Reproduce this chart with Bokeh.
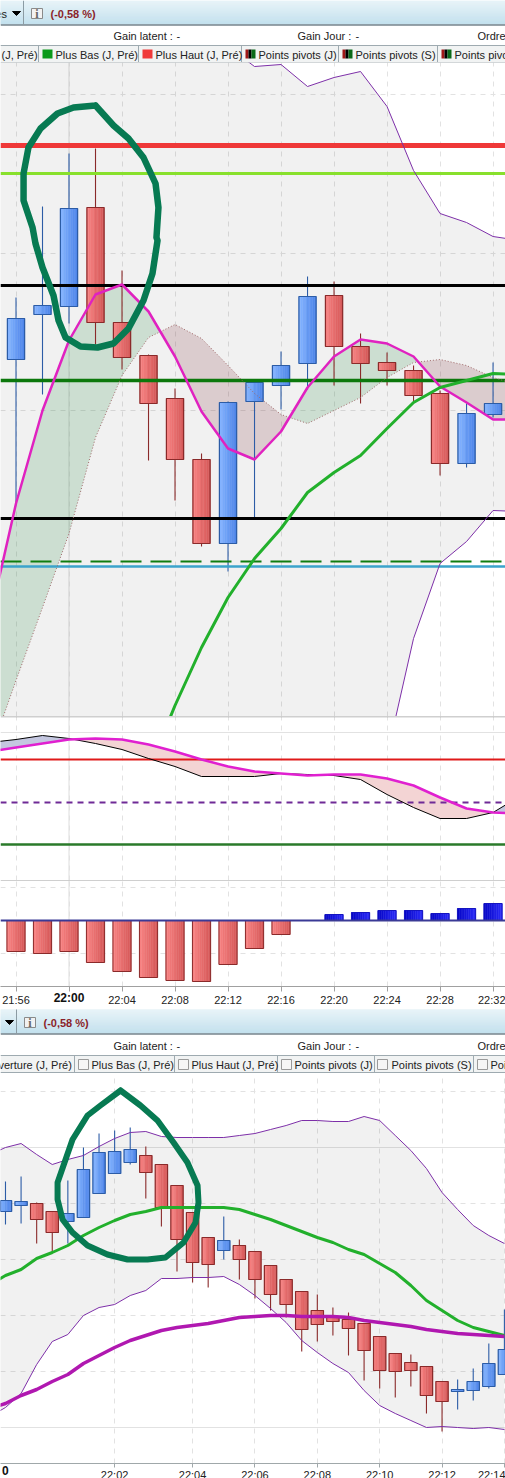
import numpy as np
from bokeh.plotting import figure
from bokeh.models import Range1d, Grid, FixedTicker, LinearAxis, Column
from bokeh.core.properties import value
from bokeh.embed import file_html
from bokeh.resources import INLINE

FONT = "Liberation Sans"

# ---- upper chart, minutes after 22:00 ----
t1 = [-6, -4, -2, 0, 2, 4, 6, 8, 10, 12, 14, 16, 18, 20, 22, 24, 26, 28, 30, 32, 34]
candle_t1 = t1[1:-1]
open1 = [641, 686, 694, 793, 678, 645, 602, 541, 457, 599, 615, 637, 705, 654, 638, 630, 607, 537, 586]
close1 = [682, 695, 792, 678, 643, 597, 541, 457, 598, 618, 635, 704, 654, 637, 630, 605, 537, 587, 597]
high1 = [703, 794, 847, 852, 730, 646, 612, 547, 599, 620, 649, 724, 719, 667, 648, 635, 610, 597, 638]
low1 = [497, 606, 677, 656, 631, 540, 500, 454, 429, 483, 591, 611, 615, 597, 615, 598, 525, 533, 583]
upper1 = [970, 970, 970, 970, 970, 970, 970, 970, 965, 954, 934, 936, 914, 923, 929, 894, 830, 787, 778, 764, 760]
lower1 = [200, 200, 200, 200, 200, 200, 200, 200, 200, 200, 200, 200, 200, 200, 200, 245, 362, 437, 459, 490, 489]
fast1 = [380, 497, 590, 660, 706, 716, 689, 644, 589, 552, 541, 569, 613, 644, 661, 657, 644, 614, 598, 581, 581]
slow1 = [245, 320, 393, 467, 563, 625, 663, 676, 662, 635, 607, 586, 577, 590, 603, 623, 638, 641, 635, 623, 615]
green1 = [230, 295, 353, 403, 442, 472, 508, 528, 545, 572, 598, 613, 620, 627, 626]
levels1 = {"red": 855, "lime": 827, "black_hi": 715, "green": 620, "black_lo": 482, "dash": 439, "cyan": 434}
grid_y1 = [906, 747, 590, 434]
ticks1 = [-4, 0, 4, 8, 12, 16, 20, 24, 28, 32]
tick_labels1 = ["21:56", "", "22:04", "22:08", "22:12", "22:16", "22:20", "22:24", "22:28", "22:32"]
bold_tick1 = 0
bold_label1 = "22:00"
loop1_t = [2.0, 3.36, 4.49, 5.62, 6.53, 6.75, 6.6, 6.68, 6.3, 5.62, 4.49, 3.36, 2.15, 0.87, -0.26, -0.79, -1.17, -2.0, -2.53, -2.75, -3.43, -3.43, -3.06, -2.15, -0.87, 0.34, 2.0]
loop1_v = [895, 875, 862, 843, 817, 793, 763, 760, 727, 700, 672, 657, 653, 654, 663, 680, 705, 733, 757, 773, 800, 827, 853, 872, 887, 893, 895]

# ---- oscillator ----
osc_black = [258, 261, 265, 262, 257, 251, 242, 234, 224, 224, 224, 227, 226, 225, 221, 206, 193, 182, 182, 188, 204]
osc_magenta = [249, 253, 257, 261, 262, 261, 256, 249, 241, 234, 229, 227, 225, 226, 226, 222, 215, 203, 192, 188, 187]

# ---- histogram ----
hist = [-31, -33, -31, -42, -51, -57, -60, -61, -44, -28, -14, 0, 6, 8, 10, 10, 7, 12, 17]

# ---- lower chart, bar number ----
bars2 = list(range(33))
open2 = [791, 797, 799, 791, 781, 785, 809, 829, 840, 847, 838, 817, 790, 765, 752, 757, 751, 737, 723, 711, 692, 685, 683, 679, 666, 649, 640, 636, 621, 611, 612, 616, 628]
close2 = [802, 801, 783, 770, 789, 833, 850, 851, 853, 830, 795, 763, 740, 738, 762, 743, 723, 708, 698, 673, 678, 681, 674, 652, 632, 631, 632, 607, 601, 613, 621, 639, 653]
high2 = [821, 826, 800, 791, 822, 855, 869, 872, 875, 856, 838, 817, 790, 765, 786, 763, 751, 737, 723, 711, 708, 695, 690, 679, 666, 649, 648, 636, 621, 623, 634, 659, 693]
low2 = [778, 779, 759, 750, 759, 785, 809, 829, 838, 804, 776, 731, 720, 715, 743, 723, 704, 692, 685, 651, 661, 667, 647, 622, 614, 605, 616, 589, 571, 593, 602, 614, 628]
t2 = list(range(-1, 33))
upper2 = [848, 855, 859, 848, 838, 843, 847, 856, 864, 870, 871, 866, 865, 865, 865, 865, 867, 869, 873, 877, 882, 882, 881, 881, 886, 882, 867, 852, 834, 810, 793, 777, 767, 759]
lower2 = [586, 595, 609, 638, 661, 668, 687, 695, 698, 707, 712, 724, 724, 725, 725, 726, 718, 707, 694, 680, 662, 650, 639, 630, 612, 597, 589, 582, 575, 576, 575, 574, 575, 573]
green2 = [718, 727, 733, 744, 750, 757, 767, 775, 782, 788, 791, 795, 795, 795, 795, 795, 793, 788, 783, 777, 771, 765, 760, 753, 748, 739, 730, 717, 702, 692, 682, 675, 671, 667]
purple2 = [594, 599, 607, 613, 621, 628, 639, 647, 655, 662, 667, 672, 675, 677, 679, 682, 685, 686, 687, 687, 686, 686, 686, 685, 682, 680, 678, 676, 673, 671, 669, 668, 667, 666]
grid_y2_dash = [911, 799, 743, 687, 631]
grid_y2_solid = [855, 575]
ticks2 = [7, 12, 16, 20, 24, 28, 32]
tick_labels2 = ["22:02", "22:04", "22:06", "22:08", "22:10", "22:12", "22:14"]
edge_tick2 = -0.2
edge_label2 = "0"
loop2_t = [7.38, 8.66, 9.75, 10.78, 11.67, 12.32, 12.38, 12.19, 11.42, 10.26, 9.11, 7.83, 6.54, 5.26, 4.30, 3.66, 3.34, 3.34, 3.72, 4.30, 5.26, 6.09, 7.38]
loop2_v = [912, 897, 882, 860, 840, 817, 800, 780, 760, 745, 743, 743, 748, 757, 770, 783, 803, 820, 837, 863, 887, 897, 912]

GRID = "#e2e2e2"
BLUE = ("#85b4ff", "#4f86ea", "#2c5ca6")
RED = ("#f88282", "#d65a5a", "#8a2a2a")
BAND = "#7d2fa8"


def mix(a, b, f):
    ca = [int(a[i:i + 2], 16) for i in (1, 3, 5)]
    cb = [int(b[i:i + 2], 16) for i in (1, 3, 5)]
    return "#%02x%02x%02x" % tuple(round(x + (y - x) * f) for x, y in zip(ca, cb))


def panel(w, h, xr, yr, **kw):
    p = figure(width=w, height=h, x_range=xr, y_range=yr, x_axis_type=None, y_axis_type=None,
               toolbar_location=None, output_backend="svg", min_border=0,
               outline_line_color=None, background_fill_color="white", border_fill_color="white", **kw)
    return p


def xgrid(p, ticks, solid=None):
    p.add_layout(Grid(dimension=0, ticker=FixedTicker(ticks=ticks), grid_line_color=GRID, grid_line_dash="5 5"))
    for s in solid or []:
        p.segment([s], [p.y_range.start], [s], [p.y_range.end], line_color="#dcdcdc", line_width=1, level="underlay")


def ygrid(p, ys, dash="5 5"):
    p.add_layout(Grid(dimension=1, ticker=FixedTicker(ticks=ys), grid_line_color=GRID, grid_line_dash=dash))


def gradient_bars(p, x, a, b, cols, width, n=10, line_w=1.2):
    x, a, b = map(np.asarray, (x, a, b))
    for k in range(n):
        f = k / (n - 1)
        c = mix(cols[0], cols[1], f)
        p.vbar(x=x - width / 2 + (k + .5) * width / n, width=width / n, top=a, bottom=b,
               fill_color=c, line_color=c, line_width=.5)
    p.vbar(x=x, width=width, top=a, bottom=b, fill_color=None, line_color=cols[2], line_width=line_w)


def candles(p, t, o, c, h, l, width):
    t, o, c, h, l = map(np.asarray, (t, o, c, h, l))
    for mask, cols in ((c >= o, BLUE), (c < o, RED)):
        p.segment(t[mask], h[mask], t[mask], l[mask], line_color=cols[2], line_width=1.1)
        gradient_bars(p, t[mask], np.maximum(o, c)[mask], np.minimum(o, c)[mask], cols, width)


def two_tone(p, x, a, b, col_a, col_b, alpha):
    """Fill between a and b, one colour where a is above, the other where b is above."""
    x, a, b = [np.asarray(v, float) for v in (x, a, b)]
    xs = []
    for i in range(len(x) - 1):
        xs.append(x[i])
        d0, d1 = a[i] - b[i], a[i + 1] - b[i + 1]
        if d0 * d1 < 0:
            xs.append(x[i] + (x[i + 1] - x[i]) * d0 / (d0 - d1))
    xs.append(x[-1])
    xs = np.array(xs)
    aa, bb = np.interp(xs, x, a), np.interp(xs, x, b)
    top = np.maximum(aa, bb)
    p.varea(xs, top, bb, fill_color=col_a, fill_alpha=alpha)
    p.varea(xs, top, aa, fill_color=col_b, fill_alpha=alpha)


def header(h, left_y, pct_x, sep_x, arrow_x, info_x, row2_y, row3_y, seps, tabs, extra=None):
    p = panel(505, h, Range1d(0, 505), Range1d(h, 0))
    top = left_y
    n = 24
    for i in range(n):
        c = mix("#e6f3f8", "#bedeec", i / (n - 1))
        p.quad(left=[0], right=[505], top=[top + i], bottom=[top + i + 1], fill_color=c, line_color=c, line_width=.4)
    p.segment([0], [top + n + .5], [505], [top + n + .5], line_color="#76858c", line_width=1.5)
    p.segment([sep_x], [top], [sep_x], [top + n], line_color="#8b9ba3", line_width=1)
    p.patch([arrow_x - 4, arrow_x + 4, arrow_x], [top + 11, top + 11, top + 15], fill_color="black", line_color="black")
    p.quad(left=[info_x], right=[info_x + 11], top=[top + 8], bottom=[top + 18], fill_color="#f2f2f2", line_color="#8a8a8a")
    txt = dict(text_font=value(FONT), text_font_size="11px", text_baseline="middle", text_color="#222222")
    p.text([info_x + 5.5], [top + 13], text=["i"], text_font=value("Liberation Serif"), text_font_size="12px",
           text_baseline="middle", text_align="center", text_color="#666666", text_font_style="bold")
    p.text([pct_x], [top + 13], text=["(-0,58 %)"], text_font=value(FONT), text_font_size="11px",
           text_baseline="middle", text_color="#8a1f2a", text_font_style="bold")
    p.text([113, 176], [row2_y, row2_y], text=["Gain latent :", "-"], **txt)
    p.text([297, 355], [row2_y, row2_y], text=["Gain Jour :", "-"], **txt)
    p.text([477], [row2_y], text=["Ordre"], **txt)
    # tab row
    p.quad(left=[0], right=[505], top=[row3_y - 9], bottom=[row3_y + 8], fill_color="#f1f3f3", line_color=None)
    p.segment([0, 0], [row3_y - 9, row3_y + 8], [505, 505], [row3_y - 9, row3_y + 8], line_color="#9eaab0", line_width=1)
    p.segment(seps, [row3_y - 9] * len(seps), seps, [row3_y + 8] * len(seps), line_color="#9eaab0", line_width=1)
    p.text([a[0] for a in tabs], [row3_y] * len(tabs), text=[a[1] for a in tabs], **txt)
    if extra:
        extra(p, row3_y)
    return p


def icons1(p, y):
    p.quad(left=[42], right=[52], top=[y - 5], bottom=[y + 4], fill_color="#0a9a1a", line_color=None)
    p.quad(left=[142], right=[152], top=[y - 5], bottom=[y + 4], fill_color="#f03a3a", line_color=None)
    for x in (245, 342, 441):
        p.quad(left=[x, x + 3, x + 6], right=[x + 3, x + 6, x + 10], top=[y - 5] * 3, bottom=[y + 4] * 3,
               fill_color=["#a01818", "#000000", "#0a6a18"], line_color=None)


def icons2(p, y):
    xs = [78, 178, 281, 377, 477]
    p.quad(left=xs, right=[x + 10 for x in xs], top=[y - 5] * 5, bottom=[y + 5] * 5,
           fill_color="#f6f6f6", line_color="#9a9a9a")


def bold_axis(p, tick, label, standoff):
    ax = LinearAxis(ticker=FixedTicker(ticks=[tick]), major_label_overrides={tick: label},
                    axis_line_color=None, major_tick_line_color=None, major_tick_in=0, major_tick_out=0,
                    minor_tick_line_color=None, major_label_text_font=FONT, major_label_text_font_size="12px",
                    major_label_text_font_style="bold", major_label_text_color="#111111",
                    major_label_standoff=standoff)
    p.add_layout(ax, "below")


# ------------------ header 1 ------------------
h1 = header(62, 0, 50, 23, 16, 31, 35, 54, [38, 138, 241, 338, 437],
            [(1, "(J, Pré)"), (55, "Plus Bas (J, Pré)"), (155, "Plus Haut (J, Pré)"),
             (258, "Points pivots (J)"), (355, "Points pivots (S)"), (454, "Points pivo")],
            icons1)
h1.text([-5], [13], text=["es"], text_font=value(FONT), text_font_size="11px", text_baseline="middle", text_color="#222222")

# ------------------ upper price chart ------------------
XR1 = (-5.17, 32.94)
p1 = panel(505, 654, Range1d(*XR1), Range1d(284, 938))
xgrid(p1, ticks1, [0])
ygrid(p1, grid_y1)
p1.varea(t1, upper1, lower1, fill_color="black", fill_alpha=.055)
two_tone(p1, t1, fast1, slow1, "#3d9756", "#883d47", .2)
candles(p1, candle_t1, open1, close1, high1, low1, 1.3)
p1.hspan(y=[levels1["red"]], line_color="#ef3838", line_width=5)
p1.hspan(y=[levels1["lime"]], line_color="#88e02c", line_width=3)
p1.hspan(y=[levels1["black_hi"], levels1["black_lo"]], line_color="black", line_width=3)
p1.hspan(y=[levels1["green"]], line_color="#0c780c", line_width=3.5)
p1.hspan(y=[levels1["cyan"]], line_color="#3ba3cb", line_width=2.5)
p1.hspan(y=[levels1["dash"]], line_color="#0f7d0f", line_width=2, line_dash="21 9")
p1.line(t1, slow1, line_color="#a06a6a", line_width=1, line_dash="1 2")
p1.line(t1, upper1, line_color=BAND, line_width=1)
p1.line(t1, lower1, line_color=BAND, line_width=1)
p1.line(t1, fast1, line_color="#e022c0", line_width=2.5)
p1.line(t1[6:], green1, line_color="#22b02c", line_width=3)
p1.line(loop1_t, loop1_v, line_color="#077a52", line_width=6.5, line_join="round", line_cap="round")
p1.segment([XR1[0]], [938], [XR1[1]], [938], line_color="#a8b0b4", line_width=1)

# ------------------ oscillator ------------------
p2 = panel(505, 164, Range1d(*XR1), Range1d(120, 284))
xgrid(p2, ticks1, [0])
ygrid(p2, [268], dash="solid")
two_tone(p2, t1, osc_black, osc_magenta, "#c4c7e0", "#f3d4d4", 1)
p2.hspan(y=[241], line_color="#e01a1a", line_width=2)
p2.hspan(y=[198], line_color="#6f2a96", line_width=2, line_dash="6 5")
p2.hspan(y=[156], line_color="#2a7a2a", line_width=2.5)
p2.line(t1, osc_black, line_color="black", line_width=1)
p2.line(t1, osc_magenta, line_color="#e020d0", line_width=2.5)
p2.segment([XR1[0]], [284], [XR1[1]], [284], line_color="#a0a0a0", line_width=1.5)

# ------------------ histogram with time axis ------------------
p3 = panel(505, 126, Range1d(*XR1), Range1d(-66, 40), frame_height=106)
xgrid(p3, ticks1, [0])
ygrid(p3, [33, -33])
hist_a = np.array(hist)
ht = np.array(candle_t1)
neg, pos = hist_a < 0, hist_a > 0
gradient_bars(p3, ht[neg], np.zeros(neg.sum()), hist_a[neg], RED, 1.37, line_w=1)
gradient_bars(p3, ht[pos], hist_a[pos], np.zeros(pos.sum()), ("#0808c8", "#2a2af5", "#1515c0"), 1.37, line_w=1)
p3.hspan(y=[0], line_color="#3a3a96", line_width=2)
p3.segment([XR1[0]], [40], [XR1[1]], [40], line_color="#a0a0a0", line_width=1.2)
ax3 = LinearAxis(ticker=FixedTicker(ticks=ticks1),
                 major_label_overrides={k: v for k, v in zip(ticks1, tick_labels1)},
                 axis_line_color="#a0a0a0", major_tick_line_color="#a0a0a0", major_tick_in=0, major_tick_out=5,
                 minor_tick_line_color=None, major_label_text_font=FONT, major_label_text_font_size="11px",
                 major_label_text_color="#222222", major_label_standoff=2)
p3.add_layout(ax3, "below")
bold_axis(p3, bold_tick1, bold_label1, -18)

# ------------------ header 2 ------------------
h2 = header(66, 1, 43, 16, 9, 24, 37, 56, [74, 174, 277, 374, 473],
            [(-2, "verture (J, Pré)"), (91, "Plus Bas (J, Pré)"), (191, "Plus Haut (J, Pré)"),
             (294, "Points pivots (J)"), (391, "Points pivots (S)"), (490, "Poi")],
            icons2)

# ------------------ lower price chart ------------------
XR2 = (-0.32, 32.07)
p4 = panel(505, 406, Range1d(*XR2), Range1d(539, 928), frame_height=389)
xgrid(p4, ticks2)
ygrid(p4, grid_y2_dash)
ygrid(p4, grid_y2_solid, dash="solid")
p4.varea(t2, upper2, lower2, fill_color="black", fill_alpha=.055)
candles(p4, bars2, open2, close2, high2, low2, .79)
p4.line(t2, upper2, line_color=BAND, line_width=1)
p4.line(t2, lower2, line_color=BAND, line_width=1)
p4.line(t2, green2, line_color="#22b02c", line_width=3)
p4.line(t2, purple2, line_color="#b018b0", line_width=3.5)
p4.line(loop2_t, loop2_v, line_color="#077a52", line_width=6, line_join="round", line_cap="round")
ax4 = LinearAxis(ticker=FixedTicker(ticks=ticks2),
                 major_label_overrides={k: v for k, v in zip(ticks2, tick_labels2)},
                 axis_line_color="#a0a8aa", major_tick_line_color="#a0a8aa", major_tick_in=0, major_tick_out=4,
                 minor_tick_line_color=None, major_label_text_font=FONT, major_label_text_font_size="11px",
                 major_label_text_color="#222222", major_label_standoff=1)
p4.add_layout(ax4, "below")
bold_axis(p4, edge_tick2, edge_label2, -18)

layout = Column(children=[h1, p1, p2, p3, h2, p4], spacing=0)
open("out.html", "w").write(file_html(layout, INLINE))
